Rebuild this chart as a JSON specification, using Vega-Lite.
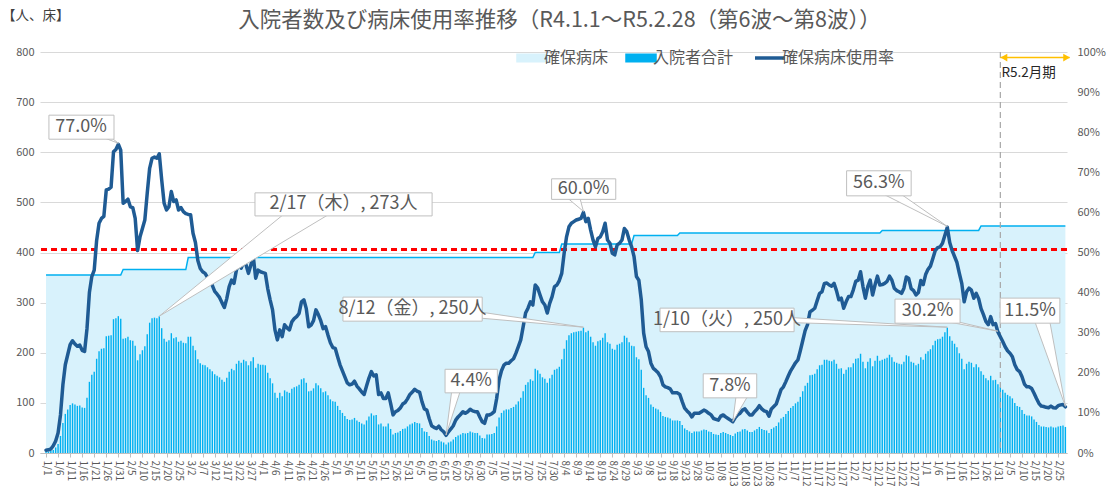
{
"$schema":"https://vega.github.io/schema/vega-lite/v6.json",
"width":1027,"height":401,
"autosize":{"type":"none"},
"padding":{"left":40,"top":52,"right":40,"bottom":35},
"background":"white",
"config":{"font":"Noto Sans CJK JP","view":{"stroke":null}},
"title":{"text":"入院者数及び病床使用率推移（R4.1.1～R5.2.28（第6波～第8波））","fontSize":21.5,"fontWeight":"normal","color":"#595959","anchor":"middle","frame":"group","offset":-23,"dx":6},
"datasets":{
"main":[
{"d":"2022-01-01","h":3,"b":355,"r":0.7},{"d":"2022-01-02","h":3,"b":355,"r":0.8},{"d":"2022-01-03","h":4,"b":355,"r":1.0},{"d":"2022-01-04","h":6,"b":355,"r":1.8},{"d":"2022-01-05","h":11,"b":355,"r":3.0},{"d":"2022-01-06","h":18,"b":355,"r":5.0},{"d":"2022-01-07","h":34,"b":355,"r":9.5},{"d":"2022-01-08","h":60,"b":355,"r":17},{"d":"2022-01-09","h":78,"b":355,"r":22},{"d":"2022-01-10","h":87,"b":355,"r":24.5},{"d":"2022-01-11","h":96,"b":355,"r":27},{"d":"2022-01-12","h":99,"b":355,"r":28},{"d":"2022-01-13","h":97,"b":355,"r":27.2},{"d":"2022-01-14","h":94,"b":355,"r":26.6},{"d":"2022-01-15","h":95,"b":355,"r":26.9},{"d":"2022-01-16","h":91,"b":355,"r":25.6},{"d":"2022-01-17","h":90,"b":355,"r":25.3},{"d":"2022-01-18","h":110,"b":355,"r":31},{"d":"2022-01-19","h":142,"b":355,"r":40},{"d":"2022-01-20","h":156,"b":355,"r":44},{"d":"2022-01-21","h":162,"b":355,"r":45.6},{"d":"2022-01-22","h":188,"b":355,"r":53},{"d":"2022-01-23","h":203,"b":355,"r":57.3},{"d":"2022-01-24","h":208,"b":355,"r":58.5},{"d":"2022-01-25","h":209,"b":355,"r":59},{"d":"2022-01-26","h":233,"b":355,"r":65.6},{"d":"2022-01-27","h":234,"b":355,"r":65.8},{"d":"2022-01-28","h":235,"b":355,"r":66.3},{"d":"2022-01-29","h":267,"b":355,"r":75.1},{"d":"2022-01-30","h":269,"b":355,"r":75.7},{"d":"2022-01-31","h":273,"b":355,"r":77.0},
{"d":"2022-02-01","h":268,"b":355,"r":75.5},{"d":"2022-02-02","h":228,"b":366,"r":62.3},{"d":"2022-02-03","h":229,"b":366,"r":62.7},{"d":"2022-02-04","h":232,"b":366,"r":63.3},{"d":"2022-02-05","h":225,"b":366,"r":61.4},{"d":"2022-02-06","h":224,"b":366,"r":61.2},{"d":"2022-02-07","h":214,"b":366,"r":58.5},{"d":"2022-02-08","h":185,"b":366,"r":50.5},{"d":"2022-02-09","h":197,"b":366,"r":53.9},{"d":"2022-02-10","h":205,"b":366,"r":56},{"d":"2022-02-11","h":213,"b":366,"r":58.1},{"d":"2022-02-12","h":237,"b":366,"r":64.8},{"d":"2022-02-13","h":260,"b":366,"r":71},{"d":"2022-02-14","h":269,"b":366,"r":73.5},{"d":"2022-02-15","h":270,"b":366,"r":73.8},{"d":"2022-02-16","h":269,"b":366,"r":73.5},{"d":"2022-02-17","h":273,"b":366,"r":74.6},{"d":"2022-02-18","h":249,"b":366,"r":68.1},{"d":"2022-02-19","h":228,"b":366,"r":62.3},{"d":"2022-02-20","h":222,"b":366,"r":60.6},{"d":"2022-02-21","h":225,"b":366,"r":61.4},{"d":"2022-02-22","h":239,"b":366,"r":65.2},{"d":"2022-02-23","h":229,"b":366,"r":62.7},{"d":"2022-02-24","h":231,"b":366,"r":63.1},{"d":"2022-02-25","h":222,"b":366,"r":60.6},{"d":"2022-02-26","h":224,"b":366,"r":61.2},{"d":"2022-02-27","h":220,"b":366,"r":60.2},{"d":"2022-02-28","h":219,"b":366,"r":59.7},
{"d":"2022-03-01","h":232,"b":390,"r":59.5},{"d":"2022-03-02","h":232,"b":390,"r":59.4},{"d":"2022-03-03","h":214,"b":390,"r":54.8},{"d":"2022-03-04","h":205,"b":390,"r":52.5},{"d":"2022-03-05","h":187,"b":390,"r":48},{"d":"2022-03-06","h":179,"b":390,"r":46},{"d":"2022-03-07","h":176,"b":390,"r":45.2},{"d":"2022-03-08","h":175,"b":390,"r":44.8},{"d":"2022-03-09","h":171,"b":390,"r":43.8},{"d":"2022-03-10","h":167,"b":390,"r":42.8},{"d":"2022-03-11","h":163,"b":390,"r":41.8},{"d":"2022-03-12","h":157,"b":390,"r":40.3},{"d":"2022-03-13","h":154,"b":390,"r":39.6},{"d":"2022-03-14","h":151,"b":390,"r":38.8},{"d":"2022-03-15","h":146,"b":390,"r":37.5},{"d":"2022-03-16","h":142,"b":390,"r":36.3},{"d":"2022-03-17","h":150,"b":390,"r":38.5},{"d":"2022-03-18","h":162,"b":390,"r":41.5},{"d":"2022-03-19","h":168,"b":390,"r":43.1},{"d":"2022-03-20","h":165,"b":390,"r":42.3},{"d":"2022-03-21","h":178,"b":390,"r":45.6},{"d":"2022-03-22","h":184,"b":390,"r":47.3},{"d":"2022-03-23","h":180,"b":390,"r":46.1},{"d":"2022-03-24","h":186,"b":390,"r":47.7},{"d":"2022-03-25","h":183,"b":390,"r":46.9},{"d":"2022-03-26","h":175,"b":390,"r":44.8},{"d":"2022-03-27","h":183,"b":390,"r":46.9},{"d":"2022-03-28","h":191,"b":390,"r":49},{"d":"2022-03-29","h":170,"b":390,"r":43.6},{"d":"2022-03-30","h":178,"b":390,"r":45.6},{"d":"2022-03-31","h":176,"b":390,"r":45.2},
{"d":"2022-04-01","h":176,"b":390,"r":45},{"d":"2022-04-02","h":175,"b":390,"r":44.8},{"d":"2022-04-03","h":160,"b":390,"r":41},{"d":"2022-04-04","h":149,"b":390,"r":38.2},{"d":"2022-04-05","h":139,"b":390,"r":35.7},{"d":"2022-04-06","h":120,"b":390,"r":30.7},{"d":"2022-04-07","h":110,"b":390,"r":28.2},{"d":"2022-04-08","h":120,"b":390,"r":30.7},{"d":"2022-04-09","h":113,"b":390,"r":29},{"d":"2022-04-10","h":125,"b":390,"r":32},{"d":"2022-04-11","h":122,"b":390,"r":31.2},{"d":"2022-04-12","h":120,"b":390,"r":30.7},{"d":"2022-04-13","h":128,"b":390,"r":32.7},{"d":"2022-04-14","h":131,"b":390,"r":33.5},{"d":"2022-04-15","h":133,"b":390,"r":34},{"d":"2022-04-16","h":136,"b":390,"r":34.8},{"d":"2022-04-17","h":147,"b":390,"r":37.7},{"d":"2022-04-18","h":149,"b":390,"r":38.2},{"d":"2022-04-19","h":140,"b":390,"r":36},{"d":"2022-04-20","h":123,"b":390,"r":31.5},{"d":"2022-04-21","h":124,"b":390,"r":31.9},{"d":"2022-04-22","h":129,"b":390,"r":33},{"d":"2022-04-23","h":139,"b":390,"r":35.7},{"d":"2022-04-24","h":135,"b":390,"r":34.5},{"d":"2022-04-25","h":129,"b":390,"r":33},{"d":"2022-04-26","h":121,"b":390,"r":31},{"d":"2022-04-27","h":123,"b":390,"r":31.5},{"d":"2022-04-28","h":115,"b":390,"r":29.4},{"d":"2022-04-29","h":107,"b":390,"r":27.5},{"d":"2022-04-30","h":103,"b":390,"r":26.3},
{"d":"2022-05-01","h":102,"b":390,"r":26.1},{"d":"2022-05-02","h":94,"b":390,"r":24},{"d":"2022-05-03","h":86,"b":390,"r":22},{"d":"2022-05-04","h":80,"b":390,"r":20.5},{"d":"2022-05-05","h":74,"b":390,"r":19},{"d":"2022-05-06","h":68,"b":390,"r":17.5},{"d":"2022-05-07","h":66,"b":390,"r":17},{"d":"2022-05-08","h":67,"b":390,"r":17.2},{"d":"2022-05-09","h":70,"b":390,"r":17.9},{"d":"2022-05-10","h":65,"b":390,"r":16.7},{"d":"2022-05-11","h":62,"b":390,"r":16},{"d":"2022-05-12","h":59,"b":390,"r":15.2},{"d":"2022-05-13","h":57,"b":390,"r":14.6},{"d":"2022-05-14","h":65,"b":390,"r":16.7},{"d":"2022-05-15","h":73,"b":390,"r":18.7},{"d":"2022-05-16","h":79,"b":390,"r":20.3},{"d":"2022-05-17","h":75,"b":390,"r":19.2},{"d":"2022-05-18","h":76,"b":390,"r":19.5},{"d":"2022-05-19","h":57,"b":390,"r":14.6},{"d":"2022-05-20","h":59,"b":390,"r":15},{"d":"2022-05-21","h":53,"b":390,"r":13.6},{"d":"2022-05-22","h":53,"b":390,"r":13.6},{"d":"2022-05-23","h":59,"b":390,"r":15},{"d":"2022-05-24","h":48,"b":390,"r":12.4},{"d":"2022-05-25","h":37,"b":390,"r":9.5},{"d":"2022-05-26","h":40,"b":390,"r":10.3},{"d":"2022-05-27","h":41,"b":390,"r":10.6},{"d":"2022-05-28","h":44,"b":390,"r":11.2},{"d":"2022-05-29","h":48,"b":390,"r":12.2},{"d":"2022-05-30","h":49,"b":390,"r":12.6},{"d":"2022-05-31","h":53,"b":390,"r":13.5},
{"d":"2022-06-01","h":57,"b":390,"r":14.6},{"d":"2022-06-02","h":59,"b":390,"r":15.2},{"d":"2022-06-03","h":62,"b":390,"r":15.9},{"d":"2022-06-04","h":60,"b":390,"r":15.4},{"d":"2022-06-05","h":59,"b":390,"r":15.2},{"d":"2022-06-06","h":50,"b":390,"r":12.8},{"d":"2022-06-07","h":43,"b":390,"r":11},{"d":"2022-06-08","h":42,"b":390,"r":10.7},{"d":"2022-06-09","h":34,"b":390,"r":8.6},{"d":"2022-06-10","h":27,"b":390,"r":6.8},{"d":"2022-06-11","h":25,"b":390,"r":6.4},{"d":"2022-06-12","h":24,"b":390,"r":6.1},{"d":"2022-06-13","h":26,"b":390,"r":6.7},{"d":"2022-06-14","h":23,"b":390,"r":5.8},{"d":"2022-06-15","h":21,"b":390,"r":5.3},{"d":"2022-06-16","h":17,"b":390,"r":4.4},{"d":"2022-06-17","h":21,"b":390,"r":5.3},{"d":"2022-06-18","h":23,"b":390,"r":6},{"d":"2022-06-19","h":27,"b":390,"r":6.8},{"d":"2022-06-20","h":32,"b":390,"r":8.2},{"d":"2022-06-21","h":35,"b":390,"r":9},{"d":"2022-06-22","h":37,"b":390,"r":9.6},{"d":"2022-06-23","h":40,"b":390,"r":10.3},{"d":"2022-06-24","h":39,"b":390,"r":9.9},{"d":"2022-06-25","h":40,"b":390,"r":10.3},{"d":"2022-06-26","h":43,"b":390,"r":10.9},{"d":"2022-06-27","h":41,"b":390,"r":10.5},{"d":"2022-06-28","h":40,"b":390,"r":10.3},{"d":"2022-06-29","h":40,"b":390,"r":10.3},{"d":"2022-06-30","h":35,"b":390,"r":9},
{"d":"2022-07-01","h":30,"b":390,"r":7.8},{"d":"2022-07-02","h":29,"b":390,"r":7.4},{"d":"2022-07-03","h":37,"b":390,"r":9.5},{"d":"2022-07-04","h":37,"b":390,"r":9.5},{"d":"2022-07-05","h":38,"b":390,"r":9.8},{"d":"2022-07-06","h":40,"b":390,"r":10.3},{"d":"2022-07-07","h":53,"b":390,"r":13.6},{"d":"2022-07-08","h":71,"b":390,"r":18.2},{"d":"2022-07-09","h":80,"b":390,"r":20.5},{"d":"2022-07-10","h":85,"b":390,"r":21.9},{"d":"2022-07-11","h":87,"b":390,"r":22.4},{"d":"2022-07-12","h":87,"b":390,"r":22.4},{"d":"2022-07-13","h":90,"b":390,"r":23},{"d":"2022-07-14","h":92,"b":390,"r":23.5},{"d":"2022-07-15","h":97,"b":390,"r":24.9},{"d":"2022-07-16","h":103,"b":390,"r":26.5},{"d":"2022-07-17","h":110,"b":390,"r":28.2},{"d":"2022-07-18","h":123,"b":390,"r":31.5},{"d":"2022-07-19","h":136,"b":390,"r":34.9},{"d":"2022-07-20","h":141,"b":390,"r":36.1},{"d":"2022-07-21","h":147,"b":390,"r":37.7},{"d":"2022-07-22","h":144,"b":390,"r":36.9},{"d":"2022-07-23","h":168,"b":400,"r":41.9},{"d":"2022-07-24","h":165,"b":400,"r":41.2},{"d":"2022-07-25","h":158,"b":400,"r":39.4},{"d":"2022-07-26","h":151,"b":400,"r":37.7},{"d":"2022-07-27","h":148,"b":400,"r":36.9},{"d":"2022-07-28","h":140,"b":400,"r":34.9},{"d":"2022-07-29","h":149,"b":400,"r":37.3},{"d":"2022-07-30","h":156,"b":400,"r":39},{"d":"2022-07-31","h":166,"b":400,"r":41.5},
{"d":"2022-08-01","h":168,"b":400,"r":41.9},{"d":"2022-08-02","h":172,"b":400,"r":43},{"d":"2022-08-03","h":187,"b":417,"r":44.8},{"d":"2022-08-04","h":208,"b":417,"r":49.8},{"d":"2022-08-05","h":225,"b":417,"r":53.9},{"d":"2022-08-06","h":235,"b":417,"r":56.4},{"d":"2022-08-07","h":239,"b":417,"r":57.3},{"d":"2022-08-08","h":241,"b":417,"r":57.7},{"d":"2022-08-09","h":242,"b":417,"r":58.1},{"d":"2022-08-10","h":243,"b":417,"r":58.3},{"d":"2022-08-11","h":244,"b":417,"r":58.5},{"d":"2022-08-12","h":250,"b":417,"r":60.0},{"d":"2022-08-13","h":241,"b":417,"r":57.7},{"d":"2022-08-14","h":244,"b":417,"r":58.5},{"d":"2022-08-15","h":232,"b":417,"r":55.6},{"d":"2022-08-16","h":221,"b":417,"r":53.1},{"d":"2022-08-17","h":214,"b":417,"r":51.4},{"d":"2022-08-18","h":223,"b":417,"r":53.5},{"d":"2022-08-19","h":225,"b":417,"r":53.9},{"d":"2022-08-20","h":230,"b":417,"r":55.2},{"d":"2022-08-21","h":239,"b":417,"r":57.3},{"d":"2022-08-22","h":221,"b":417,"r":53.1},{"d":"2022-08-23","h":218,"b":417,"r":52.3},{"d":"2022-08-24","h":208,"b":417,"r":49.8},{"d":"2022-08-25","h":206,"b":417,"r":49.4},{"d":"2022-08-26","h":216,"b":417,"r":51.9},{"d":"2022-08-27","h":218,"b":417,"r":52.3},{"d":"2022-08-28","h":221,"b":417,"r":53.1},{"d":"2022-08-29","h":234,"b":417,"r":56},{"d":"2022-08-30","h":230,"b":417,"r":55.2},{"d":"2022-08-31","h":221,"b":417,"r":53.1},
{"d":"2022-09-01","h":214,"b":417,"r":51.4},{"d":"2022-09-02","h":213,"b":434,"r":49},{"d":"2022-09-03","h":191,"b":434,"r":44},{"d":"2022-09-04","h":187,"b":434,"r":43.1},{"d":"2022-09-05","h":166,"b":434,"r":38.2},{"d":"2022-09-06","h":130,"b":434,"r":29.9},{"d":"2022-09-07","h":115,"b":434,"r":26.5},{"d":"2022-09-08","h":110,"b":434,"r":25.3},{"d":"2022-09-09","h":97,"b":434,"r":22.4},{"d":"2022-09-10","h":92,"b":434,"r":21.1},{"d":"2022-09-11","h":89,"b":434,"r":20.6},{"d":"2022-09-12","h":87,"b":434,"r":20},{"d":"2022-09-13","h":82,"b":434,"r":19},{"d":"2022-09-14","h":74,"b":434,"r":17},{"d":"2022-09-15","h":72,"b":434,"r":16.5},{"d":"2022-09-16","h":71,"b":434,"r":16.3},{"d":"2022-09-17","h":69,"b":434,"r":16},{"d":"2022-09-18","h":65,"b":434,"r":15},{"d":"2022-09-19","h":65,"b":434,"r":15},{"d":"2022-09-20","h":65,"b":434,"r":15},{"d":"2022-09-21","h":64,"b":439,"r":14.6},{"d":"2022-09-22","h":56,"b":439,"r":12.8},{"d":"2022-09-23","h":49,"b":439,"r":11.2},{"d":"2022-09-24","h":46,"b":439,"r":10.5},{"d":"2022-09-25","h":43,"b":439,"r":9.9},{"d":"2022-09-26","h":40,"b":439,"r":9},{"d":"2022-09-27","h":43,"b":439,"r":9.9},{"d":"2022-09-28","h":43,"b":439,"r":9.9},{"d":"2022-09-29","h":43,"b":439,"r":9.9},{"d":"2022-09-30","h":45,"b":439,"r":10.3},
{"d":"2022-10-01","h":47,"b":439,"r":10.7},{"d":"2022-10-02","h":46,"b":439,"r":10.4},{"d":"2022-10-03","h":43,"b":439,"r":9.9},{"d":"2022-10-04","h":42,"b":439,"r":9.5},{"d":"2022-10-05","h":38,"b":439,"r":8.6},{"d":"2022-10-06","h":37,"b":439,"r":8.4},{"d":"2022-10-07","h":36,"b":439,"r":8.2},{"d":"2022-10-08","h":40,"b":439,"r":9.2},{"d":"2022-10-09","h":42,"b":439,"r":9.5},{"d":"2022-10-10","h":40,"b":439,"r":9},{"d":"2022-10-11","h":38,"b":439,"r":8.6},{"d":"2022-10-12","h":36,"b":439,"r":8.2},{"d":"2022-10-13","h":34,"b":439,"r":7.8},{"d":"2022-10-14","h":39,"b":439,"r":8.8},{"d":"2022-10-15","h":42,"b":439,"r":9.5},{"d":"2022-10-16","h":43,"b":439,"r":9.9},{"d":"2022-10-17","h":47,"b":439,"r":10.7},{"d":"2022-10-18","h":48,"b":439,"r":11},{"d":"2022-10-19","h":45,"b":439,"r":10.2},{"d":"2022-10-20","h":42,"b":439,"r":9.5},{"d":"2022-10-21","h":42,"b":439,"r":9.5},{"d":"2022-10-22","h":45,"b":439,"r":10.3},{"d":"2022-10-23","h":48,"b":439,"r":10.9},{"d":"2022-10-24","h":52,"b":439,"r":11.8},{"d":"2022-10-25","h":48,"b":439,"r":11},{"d":"2022-10-26","h":46,"b":439,"r":10.5},{"d":"2022-10-27","h":45,"b":439,"r":10.3},{"d":"2022-10-28","h":40,"b":439,"r":9.2},{"d":"2022-10-29","h":48,"b":439,"r":11},{"d":"2022-10-30","h":51,"b":439,"r":11.6},{"d":"2022-10-31","h":54,"b":439,"r":12.2},
{"d":"2022-11-01","h":61,"b":439,"r":14},{"d":"2022-11-02","h":69,"b":439,"r":15.8},{"d":"2022-11-03","h":72,"b":439,"r":16.5},{"d":"2022-11-04","h":78,"b":439,"r":17.8},{"d":"2022-11-05","h":84,"b":439,"r":19.2},{"d":"2022-11-06","h":90,"b":439,"r":20.5},{"d":"2022-11-07","h":94,"b":439,"r":21.5},{"d":"2022-11-08","h":99,"b":439,"r":22.5},{"d":"2022-11-09","h":102,"b":439,"r":23.2},{"d":"2022-11-10","h":112,"b":439,"r":25.5},{"d":"2022-11-11","h":123,"b":439,"r":28},{"d":"2022-11-12","h":134,"b":439,"r":30.5},{"d":"2022-11-13","h":140,"b":439,"r":32},{"d":"2022-11-14","h":155,"b":439,"r":35.2},{"d":"2022-11-15","h":156,"b":439,"r":35.6},{"d":"2022-11-16","h":158,"b":439,"r":36.1},{"d":"2022-11-17","h":167,"b":439,"r":38},{"d":"2022-11-18","h":175,"b":439,"r":39.8},{"d":"2022-11-19","h":176,"b":439,"r":40.2},{"d":"2022-11-20","h":186,"b":439,"r":42.3},{"d":"2022-11-21","h":186,"b":439,"r":42.4},{"d":"2022-11-22","h":184,"b":439,"r":41.9},{"d":"2022-11-23","h":183,"b":439,"r":41.6},{"d":"2022-11-24","h":186,"b":439,"r":42.3},{"d":"2022-11-25","h":178,"b":439,"r":40.5},{"d":"2022-11-26","h":168,"b":439,"r":38.2},{"d":"2022-11-27","h":169,"b":439,"r":38.6},{"d":"2022-11-28","h":158,"b":439,"r":36.1},{"d":"2022-11-29","h":166,"b":439,"r":37.7},{"d":"2022-11-30","h":171,"b":439,"r":39},
{"d":"2022-12-01","h":171,"b":439,"r":39},{"d":"2022-12-02","h":179,"b":439,"r":40.7},{"d":"2022-12-03","h":188,"b":439,"r":42.8},{"d":"2022-12-04","h":189,"b":439,"r":43.1},{"d":"2022-12-05","h":198,"b":439,"r":45.2},{"d":"2022-12-06","h":182,"b":439,"r":41.5},{"d":"2022-12-07","h":169,"b":439,"r":38.6},{"d":"2022-12-08","h":182,"b":439,"r":41.5},{"d":"2022-12-09","h":189,"b":439,"r":43.1},{"d":"2022-12-10","h":173,"b":439,"r":39.4},{"d":"2022-12-11","h":184,"b":439,"r":41.9},{"d":"2022-12-12","h":194,"b":439,"r":44.1},{"d":"2022-12-13","h":184,"b":439,"r":41.9},{"d":"2022-12-14","h":186,"b":444,"r":42},{"d":"2022-12-15","h":188,"b":444,"r":42.3},{"d":"2022-12-16","h":190,"b":444,"r":42.8},{"d":"2022-12-17","h":196,"b":444,"r":44.1},{"d":"2022-12-18","h":191,"b":444,"r":43.1},{"d":"2022-12-19","h":182,"b":444,"r":41.1},{"d":"2022-12-20","h":180,"b":444,"r":40.5},{"d":"2022-12-21","h":178,"b":444,"r":40.2},{"d":"2022-12-22","h":177,"b":444,"r":39.8},{"d":"2022-12-23","h":182,"b":444,"r":41.1},{"d":"2022-12-24","h":195,"b":444,"r":43.9},{"d":"2022-12-25","h":193,"b":444,"r":43.5},{"d":"2022-12-26","h":182,"b":444,"r":41},{"d":"2022-12-27","h":180,"b":444,"r":40.5},{"d":"2022-12-28","h":175,"b":444,"r":39.4},{"d":"2022-12-29","h":178,"b":444,"r":40},{"d":"2022-12-30","h":191,"b":444,"r":43},{"d":"2022-12-31","h":186,"b":444,"r":42},
{"d":"2023-01-01","h":198,"b":444,"r":44.5},{"d":"2023-01-02","h":203,"b":444,"r":45.8},{"d":"2023-01-03","h":207,"b":444,"r":46.6},{"d":"2023-01-04","h":215,"b":444,"r":48.5},{"d":"2023-01-05","h":224,"b":444,"r":50.5},{"d":"2023-01-06","h":227,"b":444,"r":51.2},{"d":"2023-01-07","h":228,"b":444,"r":51.4},{"d":"2023-01-08","h":232,"b":444,"r":52.3},{"d":"2023-01-09","h":241,"b":444,"r":54.3},{"d":"2023-01-10","h":250,"b":444,"r":56.3},{"d":"2023-01-11","h":233,"b":444,"r":52.5},{"d":"2023-01-12","h":224,"b":444,"r":50.5},{"d":"2023-01-13","h":218,"b":444,"r":49},{"d":"2023-01-14","h":211,"b":444,"r":47.5},{"d":"2023-01-15","h":199,"b":444,"r":44.8},{"d":"2023-01-16","h":188,"b":444,"r":42.3},{"d":"2023-01-17","h":167,"b":444,"r":37.7},{"d":"2023-01-18","h":178,"b":444,"r":40.2},{"d":"2023-01-19","h":182,"b":444,"r":41.1},{"d":"2023-01-20","h":180,"b":444,"r":40.6},{"d":"2023-01-21","h":171,"b":444,"r":38.6},{"d":"2023-01-22","h":177,"b":444,"r":39.8},{"d":"2023-01-23","h":171,"b":444,"r":38.5},{"d":"2023-01-24","h":163,"b":453,"r":36},{"d":"2023-01-25","h":156,"b":453,"r":34.5},{"d":"2023-01-26","h":149,"b":453,"r":32.8},{"d":"2023-01-27","h":145,"b":453,"r":32},{"d":"2023-01-28","h":154,"b":453,"r":34},{"d":"2023-01-29","h":145,"b":453,"r":32},{"d":"2023-01-30","h":146,"b":453,"r":32.3},{"d":"2023-01-31","h":137,"b":453,"r":30.2},
{"d":"2023-02-01","h":131,"b":453,"r":29},{"d":"2023-02-02","h":126,"b":453,"r":27.8},{"d":"2023-02-03","h":120,"b":453,"r":26.5},{"d":"2023-02-04","h":116,"b":453,"r":25.5},{"d":"2023-02-05","h":113,"b":453,"r":24.9},{"d":"2023-02-06","h":109,"b":453,"r":24},{"d":"2023-02-07","h":100,"b":453,"r":22},{"d":"2023-02-08","h":94,"b":453,"r":20.8},{"d":"2023-02-09","h":92,"b":453,"r":20.3},{"d":"2023-02-10","h":86,"b":453,"r":19},{"d":"2023-02-11","h":78,"b":453,"r":17.2},{"d":"2023-02-12","h":75,"b":453,"r":16.5},{"d":"2023-02-13","h":75,"b":453,"r":16.5},{"d":"2023-02-14","h":73,"b":453,"r":16.1},{"d":"2023-02-15","h":67,"b":453,"r":14.9},{"d":"2023-02-16","h":62,"b":453,"r":13.6},{"d":"2023-02-17","h":56,"b":453,"r":12.4},{"d":"2023-02-18","h":53,"b":453,"r":11.7},{"d":"2023-02-19","h":53,"b":453,"r":11.6},{"d":"2023-02-20","h":52,"b":453,"r":11.4},{"d":"2023-02-21","h":51,"b":453,"r":11.3},{"d":"2023-02-22","h":53,"b":453,"r":11.7},{"d":"2023-02-23","h":51,"b":453,"r":11.3},{"d":"2023-02-24","h":51,"b":453,"r":11.2},{"d":"2023-02-25","h":53,"b":453,"r":11.8},{"d":"2023-02-26","h":54,"b":453,"r":12},{"d":"2023-02-27","h":55,"b":453,"r":12.1},{"d":"2023-02-28","h":52,"b":453,"r":11.5}
],
"boxes":[
{"t":"77.0%","x1":"2022-01-02T05:00:00Z","x2":"2022-01-29T05:00:00Z","y1":626,"y2":674,"tx":"2022-01-15T12:00:00Z","ty":650},
{"t":"2/17（木）, 273人","x1":"2022-03-28T17:00:00Z","x2":"2022-06-10T05:00:00Z","y1":473,"y2":519,"tx":"2022-05-04T10:00:00Z","ty":496},
{"t":"8/12（金）, 250人","x1":"2022-05-04T05:00:00Z","x2":"2022-07-01T00:00:00Z","y1":263,"y2":311,"tx":"2022-06-02T02:00:00Z","ty":287},
{"t":"60.0%","x1":"2022-07-29T19:00:00Z","x2":"2022-08-25T10:00:00Z","y1":506,"y2":547,"tx":"2022-08-12T02:00:00Z","ty":526},
{"t":"4.4%","x1":"2022-06-15T14:00:00Z","x2":"2022-07-07T07:00:00Z","y1":120,"y2":167,"tx":"2022-06-26T10:00:00Z","ty":143},
{"t":"1/10（火）, 250人","x1":"2022-09-12T19:00:00Z","x2":"2022-11-07T10:00:00Z","y1":242,"y2":289,"tx":"2022-10-10T14:00:00Z","ty":265},
{"t":"7.8%","x1":"2022-09-30T17:00:00Z","x2":"2022-10-22T22:00:00Z","y1":110,"y2":158,"tx":"2022-10-11T19:00:00Z","ty":134},
{"t":"56.3%","x1":"2022-11-29T05:00:00Z","x2":"2022-12-26T00:00:00Z","y1":513,"y2":563,"tx":"2022-12-12T14:00:00Z","ty":538},
{"t":"30.2%","x1":"2022-12-19T07:00:00Z","x2":"2023-01-15T07:00:00Z","y1":259,"y2":307,"tx":"2023-01-01T19:00:00Z","ty":283},
{"t":"11.5%","x1":"2023-01-31T22:00:00Z","x2":"2023-02-25T17:00:00Z","y1":259,"y2":309,"tx":"2023-02-13T07:00:00Z","ty":284}
],
"wedges":[
{"k":1,"o":1,"x":"2022-01-25T12:00:00Z","y":628},{"k":1,"o":2,"x":"2022-01-28T10:00:00Z","y":628},{"k":1,"o":3,"x":"2022-01-31T00:00:00Z","y":618},
{"k":2,"o":1,"x":"2022-04-09T07:00:00Z","y":475},{"k":2,"o":2,"x":"2022-04-28T00:00:00Z","y":475},{"k":2,"o":3,"x":"2022-02-17T00:00:00Z","y":273},
{"k":3,"o":1,"x":"2022-06-30T12:00:00Z","y":281},{"k":3,"o":2,"x":"2022-06-30T12:00:00Z","y":269},{"k":3,"o":3,"x":"2022-08-12T00:00:00Z","y":251},
{"k":4,"o":1,"x":"2022-08-05T14:00:00Z","y":508},{"k":4,"o":2,"x":"2022-08-10T14:00:00Z","y":508},{"k":4,"o":3,"x":"2022-08-12T00:00:00Z","y":482},
{"k":5,"o":1,"x":"2022-06-18T07:00:00Z","y":122},{"k":5,"o":2,"x":"2022-06-21T19:00:00Z","y":122},{"k":5,"o":3,"x":"2022-06-16T00:00:00Z","y":36},
{"k":6,"o":1,"x":"2022-11-07T00:00:00Z","y":270},{"k":6,"o":2,"x":"2022-11-07T00:00:00Z","y":260},{"k":6,"o":3,"x":"2023-01-10T00:00:00Z","y":251},
{"k":7,"o":1,"x":"2022-10-14T07:00:00Z","y":112},{"k":7,"o":2,"x":"2022-10-19T00:00:00Z","y":112},{"k":7,"o":3,"x":"2022-10-13T00:00:00Z","y":63},
{"k":8,"o":1,"x":"2022-12-15T02:00:00Z","y":515},{"k":8,"o":2,"x":"2022-12-22T05:00:00Z","y":515},{"k":8,"o":3,"x":"2023-01-10T00:00:00Z","y":452},
{"k":9,"o":1,"x":"2023-01-11T00:00:00Z","y":261},{"k":9,"o":2,"x":"2023-01-15T00:00:00Z","y":261},{"k":9,"o":3,"x":"2023-01-31T00:00:00Z","y":243},
{"k":10,"o":1,"x":"2023-02-15T10:00:00Z","y":261},{"k":10,"o":2,"x":"2023-02-21T14:00:00Z","y":261},{"k":10,"o":3,"x":"2023-02-28T00:00:00Z","y":93}
]
},
"layer":[
{"data":{"name":"main"},
 "layer":[
 {"mark":{"type":"area"},
  "encoding":{
   "x":{"field":"d","type":"temporal","title":null,"scale":{"type":"utc","nice":false,"padding":0,"domain":[{"year":2021,"month":12,"date":29,"hours":12,"utc":true},{"year":2023,"month":2,"date":28,"hours":16,"utc":true}]},
     "axis":{"tickCount":{"interval":"day","step":1},"labelExpr":"round((datum.value - utc(2022,0,1)) / 86400000) % 5 == 0 ? utcFormat(datum.value, '%-m/%-d') : ''","labelAngle":90,"labelFontSize":10,"labelColor":"#595959","labelOverlap":false,"labelPadding":3,"ticks":true,"tickSize":4,"tickColor":{"condition":{"test":"round((datum.value - utc(2022,0,1)) / 86400000) % 5 == 0","value":"#bfbfbf"},"value":"transparent"},"domain":true,"domainColor":"#bfbfbf","grid":false}},
   "y":{"field":"b","type":"quantitative","title":null,"scale":{"domain":[0,800],"nice":false},
     "axis":{"values":[0,100,200,300,400,500,600,700,800],"labelFontSize":11,"labelColor":"#595959","labelPadding":6,"ticks":false,"domain":false,"grid":true,"gridColor":"#d9d9d9"}},
   "color":{"datum":"確保病床","scale":{"domain":["確保病床","入院者合計","確保病床使用率"],"range":["#d8f2fc","#00b0f0","#1f5b94"]},
     "legend":{"orient":"none","legendX":484,"legendY":-2,"direction":"horizontal","title":null,"symbolSize":900,"labelFontSize":16,"labelColor":"#595959","labelOffset":4,"columnPadding":14,"padding":0,
       "encode":{"symbols":{"update":{
         "shape":{"signal":"datum.value === '確保病床使用率' ? 'M-1,0H1' : 'M-1,-0.25H1V0.25H-1Z'"},
         "fill":{"signal":"datum.value === '確保病床' ? '#d8f2fc' : datum.value === '入院者合計' ? '#00b0f0' : 'transparent'"},
         "stroke":{"signal":"datum.value === '確保病床使用率' ? '#1f5b94' : '#00b0f0'"},
         "strokeWidth":{"signal":"datum.value === '確保病床使用率' ? 3.5 : 1.5"},
         "opacity":{"value":1}}}}}}
  }},
 {"mark":{"type":"line","color":"#00b0f0","strokeWidth":1.5},
  "encoding":{"x":{"field":"d","type":"temporal","title":null},"y":{"field":"b","type":"quantitative","title":null}}},
 {"mark":{"type":"bar","size":1.4},
  "encoding":{"x":{"field":"d","type":"temporal","title":null},"y":{"field":"h","type":"quantitative","title":null},"color":{"datum":"入院者合計"}}},
 {"mark":{"type":"rule","color":"#ff0000","strokeDash":[6,4],"strokeWidth":1.3},
  "encoding":{"y":{"datum":406,"type":"quantitative","title":null}}},
 {"data":{"values":[{"x":"2023-02-01T00:00:00Z"}]},
  "mark":{"type":"rule","color":"#a6a6a6","strokeDash":[6,4],"strokeWidth":1.2},
  "encoding":{"x":{"field":"x","type":"temporal","title":null}}},
 {"data":{"values":[{"x":"2023-02-01T00:00:00Z","x2":"2023-03-01T18:00:00Z","y":789}]},
  "mark":{"type":"rule","color":"#ffc000","strokeWidth":1.5},
  "encoding":{"x":{"field":"x","type":"temporal","title":null},"x2":{"field":"x2"},"y":{"field":"y","type":"quantitative","title":null}}},
 {"data":{"values":[{"x":"2023-02-02T12:00:00Z","y":789}]},
  "mark":{"type":"point","shape":"triangle-left","filled":true,"color":"#ffc000","size":60,"opacity":1},
  "encoding":{"x":{"field":"x","type":"temporal","title":null},"y":{"field":"y","type":"quantitative","title":null}}},
 {"data":{"values":[{"x":"2023-02-28T12:00:00Z","y":789}]},
  "mark":{"type":"point","shape":"triangle-right","filled":true,"color":"#ffc000","size":60,"opacity":1},
  "encoding":{"x":{"field":"x","type":"temporal","title":null},"y":{"field":"y","type":"quantitative","title":null}}},
 {"data":{"values":[{"x":"2023-02-01T12:00:00Z","y":758,"t":"R5.2月期"}]},
  "mark":{"type":"text","align":"left","baseline":"middle","fontSize":13.5,"color":"#262626"},
  "encoding":{"x":{"field":"x","type":"temporal","title":null},"y":{"field":"y","type":"quantitative","title":null},"text":{"field":"t"}}}
 ]},
{"data":{"name":"main"},
 "mark":{"type":"line","strokeWidth":3.5,"strokeJoin":"round","strokeCap":"round"},
 "encoding":{"x":{"field":"d","type":"temporal","title":null},
  "y":{"field":"r","type":"quantitative","title":null,"scale":{"domain":[0,100],"nice":false},
    "axis":{"orient":"right","values":[0,10,20,30,40,50,60,70,80,90,100],"labelExpr":"datum.value + '%'","labelFontSize":11,"labelColor":"#595959","labelPadding":10,"ticks":false,"domain":false,"grid":false}},
  "color":{"datum":"確保病床使用率"}}},
{"layer":[
 {"data":{"name":"wedges"},
  "mark":{"type":"line","interpolate":"linear-closed","fill":"white","stroke":"#bfbfbf","strokeWidth":1},
  "encoding":{"x":{"field":"x","type":"temporal","title":null},"y":{"field":"y","type":"quantitative","title":null,"scale":{"domain":[0,800],"nice":false},"axis":null},"detail":{"field":"k","type":"nominal"},"order":{"field":"o","type":"quantitative"}}},
 {"data":{"name":"boxes"},
  "mark":{"type":"rect","fill":"white","stroke":"#bfbfbf","strokeWidth":1},
  "encoding":{"x":{"field":"x1","type":"temporal","title":null},"x2":{"field":"x2"},"y":{"field":"y1","type":"quantitative","title":null},"y2":{"field":"y2"}}},
 {"data":{"name":"boxes"},
  "mark":{"type":"text","align":"center","baseline":"middle","fontSize":18,"color":"#595959"},
  "encoding":{"x":{"field":"tx","type":"temporal","title":null},"y":{"field":"ty","type":"quantitative","title":null},"text":{"field":"t"}}},
 {"data":{"values":[{"x":"2021-12-13T17:00:00Z","y":872,"t":"【人、床】"}]},
  "mark":{"type":"text","align":"left","baseline":"middle","fontSize":13.5,"color":"#404040"},
  "encoding":{"x":{"field":"x","type":"temporal","title":null},"y":{"field":"y","type":"quantitative","title":null},"text":{"field":"t"}}}
 ]}
],
"resolve":{"scale":{"y":"independent"}}
}
